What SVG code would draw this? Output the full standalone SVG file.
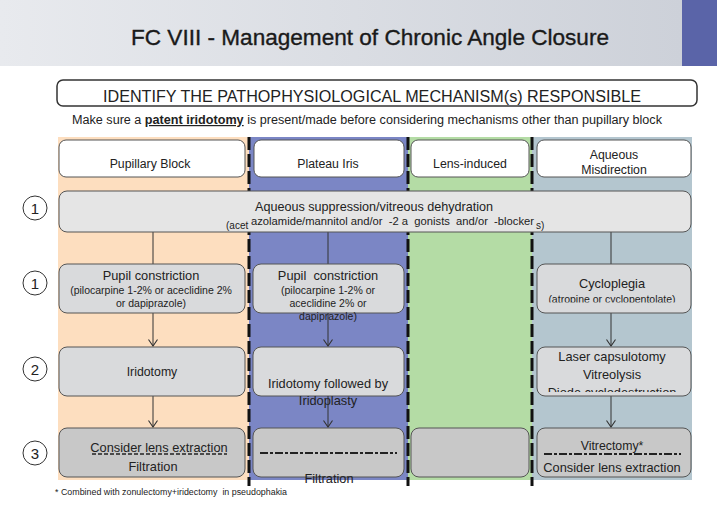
<svg xmlns="http://www.w3.org/2000/svg" width="717" height="509" viewBox="0 0 717 509">
<defs>
<linearGradient id="hdr" x1="0" y1="0" x2="1" y2="0">
<stop offset="0" stop-color="#E8EAEE"/>
<stop offset="1" stop-color="#CDD1D9"/>
</linearGradient>
<marker id="arr" viewBox="0 0 10 10" refX="9" refY="5" markerWidth="10" markerHeight="10" orient="auto" markerUnits="userSpaceOnUse">
<path d="M2.5,0.5 L9,5 L2.5,9.5" fill="none" stroke="#333" stroke-width="1.1"/>
</marker>
<clipPath id="clipCyc"><rect x="537" y="264" width="154" height="38.5"/></clipPath>
<clipPath id="clipDiode"><rect x="537" y="347" width="154" height="45"/></clipPath>
</defs>
<style>
text{font-family:"Liberation Sans",Arial,sans-serif;fill:#222}
.hd{fill:#fff;stroke:#555;stroke-width:1}
.b2{fill:#D9DADC;stroke:#555;stroke-width:1}
.b4{fill:#C8C8C8;stroke:#555;stroke-width:1}
.wide{fill:#E5E5E5;stroke:#555;stroke-width:1}
.div{stroke:#111;stroke-width:3;stroke-dasharray:13 4}
.ln{stroke:#333;stroke-width:1;fill:none}
.num{fill:#fff;stroke:#333;stroke-width:1}
.t12{font-size:12.3px}
.t13{font-size:12.8px}
.s10{font-size:10.5px}
.m{text-anchor:middle}
.dd{stroke:#222;stroke-width:2;stroke-dasharray:8 2 3 2;fill:none}
</style>

<!-- header band -->
<rect x="0" y="0" width="682" height="66" fill="url(#hdr)"/>
<rect x="682" y="0" width="35" height="66" fill="#5A64A8"/>
<text x="370" y="45" class="m" style="font-size:22px;fill:#1a1a1a;stroke:#1a1a1a;stroke-width:0.35" textLength="478" lengthAdjust="spacingAndGlyphs">FC VIII - Management of Chronic Angle Closure</text>

<g id="title-box">
<rect x="57" y="80" width="640" height="26" rx="6" fill="#fff" stroke="#333" stroke-width="1.5"/>
<text x="372" y="102" class="m" style="font-size:16px" textLength="538" lengthAdjust="spacingAndGlyphs">IDENTIFY THE PATHOPHYSIOLOGICAL MECHANISM(s) RESPONSIBLE</text>
</g>
<text x="72" y="124" style="font-size:12px" textLength="590" lengthAdjust="spacingAndGlyphs">Make sure a <tspan font-weight="bold" text-decoration="underline">patent iridotomy</tspan> is present/made before considering mechanisms other than pupillary block</text>

<!-- columns -->
<rect x="58" y="137" width="191" height="343" fill="#FDDEBF"/>
<rect x="249" y="137" width="159" height="343" fill="#7B86C5"/>
<rect x="408" y="137" width="124" height="343" fill="#B4DCA5"/>
<rect x="532" y="137" width="160" height="343" fill="#B4C6CF"/>
<line class="div" x1="249" y1="137" x2="249" y2="486"/>
<line class="div" x1="408" y1="137" x2="408" y2="486"/>
<line class="div" x1="532" y1="137" x2="532" y2="486"/>

<!-- column headers -->
<g id="h-pupillary"><rect class="hd" x="59" y="140" width="186" height="37" rx="7"/><text class="t12 m" x="150" y="167.5">Pupillary Block</text></g>
<g id="h-plateau"><rect class="hd" x="254" y="140" width="150" height="37" rx="7"/><text class="t12 m" x="328" y="167.5">Plateau Iris</text></g>
<g id="h-lens"><rect class="hd" x="411" y="140" width="118" height="37" rx="7"/><text class="t12 m" x="470" y="167.5">Lens-induced</text></g>
<g id="h-aqueous"><rect class="hd" x="537" y="140" width="154" height="37" rx="7"/><text class="t12 m" x="614" y="158.5">Aqueous</text><text class="t12 m" x="614" y="174">Misdirection</text></g>

<!-- step numbers -->
<g id="n1a"><circle class="num" cx="35" cy="208" r="12"/><text x="35" y="213.5" class="m" style="font-size:15px">1</text></g>
<g id="n1b"><circle class="num" cx="35" cy="283" r="12"/><text x="35" y="288.5" class="m" style="font-size:15px">1</text></g>
<g id="n2"><circle class="num" cx="35" cy="369" r="12"/><text x="35" y="374.5" class="m" style="font-size:15px">2</text></g>
<g id="n3"><circle class="num" cx="35" cy="453" r="12"/><text x="35" y="458.5" class="m" style="font-size:15px">3</text></g>

<!-- connectors -->
<g id="connectors">
<line class="ln" x1="153" y1="232" x2="153" y2="264"/>
<line class="ln" x1="328" y1="232" x2="328" y2="264"/>
<line class="ln" x1="611" y1="232" x2="611" y2="264"/>
<line class="ln" x1="153" y1="313" x2="153" y2="346" marker-end="url(#arr)"/>
<line class="ln" x1="611" y1="313" x2="611" y2="346" marker-end="url(#arr)"/>
<line class="ln" x1="153" y1="396" x2="153" y2="427" marker-end="url(#arr)"/>
<line class="ln" x1="611" y1="396" x2="611" y2="427" marker-end="url(#arr)"/>
</g>

<!-- wide box -->
<g id="aqueous-suppression">
<rect class="wide" x="59" y="191" width="632" height="41" rx="8"/>
<text x="255" y="211" style="font-size:13px" textLength="238" lengthAdjust="spacingAndGlyphs">Aqueous suppression/vitreous dehydration</text>
<text x="226" y="228.5" style="font-size:10px">(acet</text>
<text x="251" y="225" style="font-size:10px" textLength="283" lengthAdjust="spacingAndGlyphs" xml:space="preserve">azolamide/mannitol and/or  -2 a  gonists  and/or  -blocker</text>
<text x="536" y="228.5" style="font-size:10px">s)</text>
</g>

<!-- row 2 -->
<g id="r2-pb"><rect class="b2" x="59" y="264" width="186" height="49" rx="8"/>
<text class="t13 m" x="151" y="279.5">Pupil constriction</text>
<text class="s10 m" x="151" y="293.5">(pilocarpine 1-2% or aceclidine 2%</text>
<text class="s10 m" x="151" y="306.5">or dapiprazole)</text></g>
<g id="r2-pi"><rect class="b2" x="253" y="264" width="151" height="49" rx="8"/>
<text class="t13 m" x="328" y="279.5" xml:space="preserve">Pupil  constriction</text>
<text class="s10 m" x="328" y="293.5">(pilocarpine 1-2% or</text>
<text class="s10 m" x="328" y="306.5">aceclidine 2% or</text>
<text class="s10 m" x="328" y="319.5">dapiprazole)</text></g>
<g id="r2-am"><rect class="b2" x="537" y="264" width="154" height="49" rx="8"/>
<text class="t13 m" x="612" y="288">Cycloplegia</text>
<text class="s10 m" x="612" y="303" clip-path="url(#clipCyc)">(atropine or cyclopentolate)</text></g>

<line class="ln" x1="328" y1="313" x2="328" y2="346" marker-end="url(#arr)"/>

<!-- row 3 -->
<g id="r3-pb"><rect class="b2" x="59" y="347" width="186" height="49" rx="8"/>
<text class="t12 m" x="152" y="375.5">Iridotomy</text></g>
<g id="r3-pi"><rect class="b2" x="253" y="347" width="151" height="49" rx="8"/>
<text class="t13 m" x="328" y="387.5">Iridotomy followed by</text>
<text class="t13 m" x="328" y="404.5">Iridoplasty</text></g>
<g id="r3-am"><rect class="b2" x="537" y="347" width="154" height="49" rx="8"/>
<text class="t13 m" x="612" y="360.5">Laser capsulotomy</text>
<text class="t13 m" x="612" y="378.5">Vitreolysis</text>
<text class="t13 m" x="612" y="396.5" clip-path="url(#clipDiode)">Diode cyclodestruction</text></g>

<line class="ln" x1="328" y1="396" x2="328" y2="427" marker-end="url(#arr)"/>

<!-- row 4 -->
<g id="r4-pb"><rect class="b4" x="59" y="428" width="186" height="49" rx="8"/>
<text class="t13 m" x="159" y="452">Consider lens extraction</text>
<line x1="92" y1="454" x2="227" y2="454" stroke="#222" stroke-width="1.5" stroke-dasharray="4 2"/>
<text class="t13 m" x="153" y="470.5">Filtration</text></g>
<g id="r4-pi"><rect class="b4" x="253" y="428" width="151" height="49" rx="8"/>
<line class="dd" x1="260" y1="453" x2="397" y2="453"/>
<text class="t13 m" x="329" y="482.5">Filtration</text></g>
<g id="r4-li"><rect class="b4" x="411" y="428" width="118" height="49" rx="8"/></g>
<g id="r4-am"><rect class="b4" x="537" y="428" width="154" height="49" rx="8"/>
<text class="t12 m" x="612" y="450">Vitrectomy*</text>
<line class="dd" x1="544" y1="454" x2="681" y2="454"/>
<text class="t13 m" x="612" y="471.5">Consider lens extraction</text></g>

<text x="55" y="495" style="font-size:8.5px" textLength="232" lengthAdjust="spacingAndGlyphs" xml:space="preserve">* Combined with zonulectomy+iridectomy  in pseudophakia</text>
</svg>
